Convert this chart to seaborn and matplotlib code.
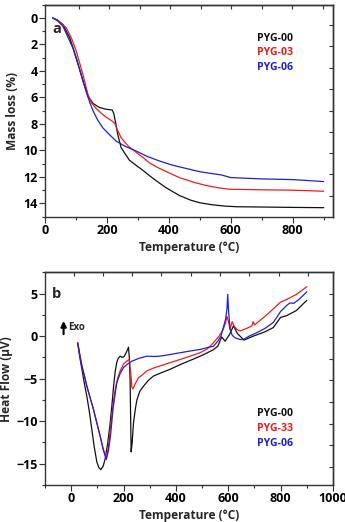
import numpy as np
import pandas as pd
import matplotlib
matplotlib.use("Agg")
import matplotlib.pyplot as plt
import seaborn as sns
from matplotlib.ticker import MultipleLocator, FixedLocator, NullFormatter

# ---------------- data (panel a: TGA) ----------------
tga_names = ["PYG-00", "PYG-03", "PYG-06"]
t00_x = [25, 40, 58, 80, 101, 123, 139, 155, 175, 195, 217, 222, 228, 235, 246, 260, 273, 290, 316, 340, 360, 390, 434, 470, 500, 540, 580, 620, 700, 800, 900]
t00_y = [0, 0.15, 0.5, 1.5, 3.0, 4.8, 5.9, 6.45, 6.75, 6.88, 6.95, 7.2, 7.9, 8.8, 9.8, 10.3, 10.75, 11.05, 11.5, 11.95, 12.3, 12.8, 13.4, 13.75, 13.95, 14.1, 14.2, 14.25, 14.27, 14.3, 14.32]
t03_x = [25, 45, 69, 85, 101, 123, 139, 150, 166, 182, 198, 215, 225, 235, 246, 270, 295, 320, 338, 365, 392, 434, 480, 521, 560, 596, 650, 700, 800, 900]
t03_y = [0, 0.25, 0.75, 1.5, 2.5, 4.3, 5.8, 6.4, 6.85, 7.2, 7.5, 7.75, 7.95, 8.5, 9.05, 9.7, 10.15, 10.6, 10.95, 11.3, 11.6, 12.05, 12.4, 12.65, 12.82, 12.93, 12.95, 12.97, 13.0, 13.08]
t06_x = [25, 40, 58, 90, 117, 134, 145, 155, 170, 187, 210, 230, 260, 295, 330, 370, 410, 445, 499, 540, 570, 600, 650, 700, 800, 900]
t06_y = [0, 0.2, 0.63, 2.26, 4.27, 5.65, 6.4, 7.0, 7.7, 8.3, 8.85, 9.3, 9.7, 10.05, 10.45, 10.8, 11.1, 11.3, 11.6, 11.75, 11.85, 12.05, 12.1, 12.15, 12.2, 12.35]

# ---------------- data (panel b: DSC) ----------------
dsc_names = ["PYG-00", "PYG-33", "PYG-06"]
d00_x = [25, 33, 41, 50, 60, 70, 79, 88, 98, 105, 113, 122, 130, 140, 149, 156, 162, 168, 174, 180, 187, 195, 202, 210, 215, 219, 222, 225, 229, 233, 238, 245, 251, 262, 276, 295, 314, 345, 378, 420, 467, 505, 543, 560, 575, 588, 605, 620, 635, 660, 696, 740, 772, 800, 823, 860, 900]
d00_y = [-0.8, -2.5, -3.9, -5.5, -7.1, -9.0, -11.0, -13.0, -14.8, -15.4, -15.7, -15.3, -14.4, -12.5, -10.2, -8.0, -5.9, -4.2, -3.1, -2.6, -2.36, -2.5, -2.4, -1.96, -1.6, -1.3, -2.5, -5.0, -13.6, -12.5, -10.2, -8.6, -7.5, -6.5, -5.9, -5.2, -4.7, -4.3, -3.9, -3.3, -2.7, -2.2, -1.6, -1.2, -0.1, -0.6, 0.2, 1.2, 0.3, -0.47, 0.0, 0.5, 1.0, 2.2, 2.4, 3.0, 4.2]
d33_x = [25, 33, 41, 50, 60, 72, 85, 98, 111, 122, 134, 142, 149, 158, 168, 178, 187, 200, 212, 222, 228, 232, 236, 245, 257, 270, 289, 315, 340, 380, 416, 455, 492, 520, 543, 565, 581, 590, 595, 600, 607, 615, 622, 632, 645, 670, 690, 695, 700, 747, 772, 800, 823, 860, 900]
d33_y = [-0.8, -2.2, -3.5, -4.6, -5.9, -7.2, -8.6, -10.2, -11.8, -13.2, -14.35, -13.2, -11.0, -8.6, -6.3, -4.9, -4.1, -3.3, -2.95, -2.75, -4.5, -6.0, -6.2, -5.6, -4.9, -4.6, -4.1, -3.75, -3.5, -3.1, -2.75, -2.35, -1.96, -1.5, -0.8, 0.0, 0.8, 1.6, 2.3, 1.8, 0.8, 1.7, 1.2, 0.8, 0.6, 0.9, 1.2, 1.7, 1.3, 2.5, 3.2, 4.0, 4.3, 4.9, 5.8]
d06_x = [25, 33, 41, 50, 60, 72, 85, 98, 111, 122, 134, 142, 150, 160, 174, 187, 200, 215, 232, 260, 289, 320, 340, 380, 416, 455, 492, 520, 543, 560, 572, 581, 590, 595, 598, 601, 607, 615, 626, 645, 658, 680, 709, 740, 772, 800, 823, 836, 850, 870, 900]
d06_y = [-0.8, -2.2, -3.5, -4.6, -5.9, -7.2, -8.6, -10.2, -11.8, -13.3, -14.5, -13.5, -11.8, -8.5, -5.5, -4.4, -3.7, -3.3, -2.95, -2.6, -2.36, -2.4, -2.36, -2.15, -1.96, -1.75, -1.57, -1.35, -1.2, -0.6, 0.0, 1.0, 2.0, 3.2, 4.9, 3.0, 0.8, 0.1, -0.2, -0.4, -0.4, 0.0, 0.4, 0.9, 1.6, 2.9, 3.6, 3.9, 3.85, 4.3, 5.2]

colors = ["#111111", "#f01c1c", "#2020d0"]

# ---------------- style ----------------
sns.set_theme(style="white")
plt.rcParams["font.family"] = ["Open Sans", "DejaVu Sans"]
plt.rcParams["font.weight"] = "bold"
plt.rcParams["axes.labelweight"] = "bold"

fig = plt.figure(figsize=(3.45, 5.22), dpi=100)
ax1 = fig.add_axes([0.1304, 0.5849, 0.8348, 0.4061])
ax2 = fig.add_axes([0.1304, 0.0709, 0.8348, 0.4075])

tga = pd.concat([
    pd.DataFrame({"T": t00_x, "v": t00_y, "s": tga_names[0]}),
    pd.DataFrame({"T": t03_x, "v": t03_y, "s": tga_names[1]}),
    pd.DataFrame({"T": t06_x, "v": t06_y, "s": tga_names[2]}),
])
dsc = pd.concat([
    pd.DataFrame({"T": d00_x, "v": d00_y, "s": dsc_names[0]}),
    pd.DataFrame({"T": d33_x, "v": d33_y, "s": dsc_names[1]}),
    pd.DataFrame({"T": d06_x, "v": d06_y, "s": dsc_names[2]}),
])

sns.lineplot(data=tga, x="T", y="v", hue="s", hue_order=tga_names,
             palette=colors, sort=False, estimator=None, legend=False,
             lw=0.9, ax=ax1)
sns.lineplot(data=dsc, x="T", y="v", hue="s", hue_order=dsc_names,
             palette=colors, sort=False, estimator=None, legend=False,
             lw=0.9, ax=ax2)

lab_fs = 8.6
tick_fs = 9

def style(ax):
    for sp in ax.spines.values():
        sp.set_color("#333333")
        sp.set_linewidth(1.0)
    ax.tick_params(which="both", direction="out", top=False, right=False,
                   bottom=True, left=True, colors="#333333", labelcolor="black",
                   labelsize=tick_fs, width=0.8)
    ax.tick_params(which="major", length=4, pad=1.2)
    ax.tick_params(which="minor", length=2)
    for lab in ax.get_xticklabels() + ax.get_yticklabels():
        lab.set_fontweight("bold")

# panel a
ax1.set_xlim(0, 930)
ax1.set_ylim(15, -1)
ax1.xaxis.set_major_locator(MultipleLocator(200))
ax1.xaxis.set_minor_locator(MultipleLocator(100))
ax1.yaxis.set_major_locator(MultipleLocator(2))
ax1.yaxis.set_minor_locator(MultipleLocator(1))
ax1.set_xlabel("Temperature (°C)", fontsize=lab_fs, fontweight="bold", labelpad=3)
ax1.set_ylabel("Mass loss (%)", fontsize=lab_fs, fontweight="bold", labelpad=3)
style(ax1)

# panel b
ax2.set_xlim(-100, 1000)
ax2.set_ylim(-17.5, 7.5)
ax2.xaxis.set_major_locator(MultipleLocator(200))
ax2.xaxis.set_minor_locator(MultipleLocator(100))
ax2.yaxis.set_major_locator(MultipleLocator(5))
ax2.yaxis.set_minor_locator(MultipleLocator(2.5))
ax2.set_xlabel("Temperature (°C)", fontsize=lab_fs, fontweight="bold", labelpad=3)
ax2.set_ylabel("Heat Flow (µV)", fontsize=lab_fs, fontweight="bold", labelpad=2)
style(ax2)

# inner mirror ticks (top/right)
def mirror(ax, xt, yt):
    sx = ax.secondary_xaxis("top")
    sx.xaxis.set_major_locator(FixedLocator(xt))
    sx.xaxis.set_major_formatter(NullFormatter())
    sx.tick_params(direction="in", length=3, width=0.8, colors="#333333")
    sy = ax.secondary_yaxis("right")
    sy.yaxis.set_major_locator(FixedLocator(yt))
    sy.yaxis.set_major_formatter(NullFormatter())
    sy.tick_params(direction="in", length=3, width=0.8, colors="#333333")
    for s in (sx, sy):
        for sp in s.spines.values():
            sp.set_color("#333333")
            sp.set_linewidth(1.0)

mirror(ax1, [110, 208, 307, 405, 504, 602, 700, 799, 897],
       [0.5, 2.14, 3.77, 5.35, 6.99, 8.59, 10.17, 11.81, 13.44])
mirror(ax2, [9, 121, 233, 345, 456, 568, 680, 792, 903],
       [5.0, 2.44, -0.1, -2.65, -5.2, -7.75, -10.3, -12.85, -15.4])

# annotations panel a
ax1.text(38, 0.85, "a", fontsize=10.5, fontweight="bold", ha="center", va="center")
for name, c, yy in zip(tga_names, colors, [1.54, 2.6, 3.77]):
    ax1.text(683, yy, name, color=c, fontsize=7.6, fontweight="bold", ha="left", va="center")

# annotations panel b
ax2.text(-57, 4.9, "b", fontsize=10.5, fontweight="bold", ha="center", va="center")
for name, c, yy in zip(dsc_names, colors, [-9.1, -10.9, -12.6]):
    ax2.text(710, yy, name, color=c, fontsize=7.6, fontweight="bold", ha="left", va="center")
ax2.annotate("", xy=(-29, 2.1), xytext=(-29, -0.1),
             arrowprops=dict(arrowstyle="-|>", lw=1.5, color="black", mutation_scale=8))
ax2.text(-10, 1.0, "Exo", fontsize=7, fontweight="bold", ha="left", va="center")

fig.savefig("out.png", dpi=100)
